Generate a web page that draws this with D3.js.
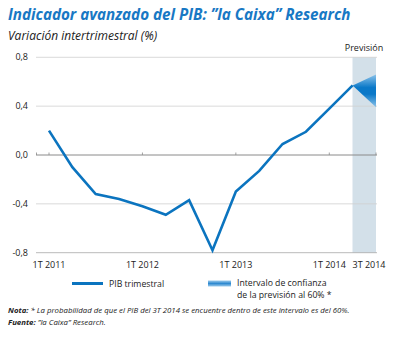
<!DOCTYPE html>
<html>
<head>
<meta charset="utf-8">
<script src="https://cdn.jsdelivr.net/npm/d3@7"></script>
<style>
  body { margin: 0; background: #fff; }
  text { font-family: "Open Sans", "Noto Sans", sans-serif; }
</style>
</head>
<body>
<div id="chart"></div>
<script>
// quarters 1T 2011 .. 2T 2014, then forecast for 3T 2014
let quarters = ["1T 2011", "2T 2011", "3T 2011", "4T 2011",
                "1T 2012", "2T 2012", "3T 2012", "4T 2012",
                "1T 2013", "2T 2013", "3T 2013", "4T 2013",
                "1T 2014", "2T 2014"];
let gdp = [0.2, -0.1, -0.32, -0.36, -0.42, -0.49, -0.37, -0.78, -0.30, -0.13, 0.09, 0.19, 0.38, 0.57];
let forecastQuarter = "3T 2014";
let forecastLow = 0.39;
let forecastHigh = 0.66;
let yTicks = [0.8, 0.4, 0.0, -0.4, -0.8];
let xLabels = ["1T 2011", "1T 2012", "1T 2013", "1T 2014", "3T 2014"];

let W = 395, H = 338;
let blue = "#0b74bf";

let svg = d3.select("#chart")
            .append("svg")
            .attr("width", W)
            .attr("height", H);

let allQ = quarters.concat([forecastQuarter]);
let x = d3.scalePoint()
          .domain(allQ)
          .range([49, 376]);
let y = d3.scaleLinear()
          .domain([-0.8, 0.8])
          .range([252.7, 57.3]);

// title
svg.append("text")
   .attr("x", 8).attr("y", 20)
   .style("font-size", "15.2px")
   .style("font-weight", "bold")
   .style("font-style", "italic")
   .style("fill", "#1878c4")
   .text("Indicador avanzado del PIB: \u201Dla Caixa\u201D Research");

svg.append("text")
   .attr("x", 8).attr("y", 40)
   .style("font-size", "12px")
   .style("font-style", "italic")
   .style("fill", "#222")
   .text("Variación intertrimestral (%)");

// forecast band
let bandX0 = 352.5, bandX1 = 376;
svg.append("rect")
   .attr("x", bandX0)
   .attr("y", y(0.8))
   .attr("width", bandX1 - bandX0)
   .attr("height", y(-0.8) - y(0.8))
   .style("fill", "#d3e0e9");

svg.append("text")
   .attr("x", 364).attr("y", 51)
   .attr("text-anchor", "middle")
   .style("font-size", "9px")
   .style("fill", "#222")
   .text("Previsión");

// gridlines
svg.append("g")
   .selectAll("line")
   .data(yTicks)
   .enter()
   .append("line")
   .attr("x1", 36).attr("x2", 377)
   .attr("y1", d => y(d)).attr("y2", d => y(d))
   .style("stroke", d => d === 0 ? "#8a8a8a" : (d === -0.8 ? "#a8a8a8" : "#cfcfcf"))
   .style("stroke-width", d => d === 0 ? 1 : 0.8);

// small ticks on the zero line
let tickQ = ["1T 2011", "1T 2012", "1T 2013", "1T 2014", "3T 2014"];
svg.append("g")
   .selectAll("line")
   .data(tickQ)
   .enter()
   .append("line")
   .attr("x1", d => x(d)).attr("x2", d => x(d))
   .attr("y1", y(0) - 2.5).attr("y2", y(0))
   .style("stroke", "#8a8a8a")
   .style("stroke-width", 0.8);
svg.append("line")
   .attr("x1", 36.5).attr("x2", 36.5)
   .attr("y1", y(0) - 2.5).attr("y2", y(0))
   .style("stroke", "#8a8a8a")
   .style("stroke-width", 0.8);

// y labels
svg.append("g")
   .selectAll("text")
   .data(yTicks)
   .enter()
   .append("text")
   .attr("x", 28)
   .attr("y", d => y(d) + 3)
   .attr("text-anchor", "end")
   .style("font-size", "9px")
   .style("fill", "#222")
   .text(d => d3.format(".1f")(d).replace(".", ",").replace("−", "-"));

// x labels
svg.append("g")
   .selectAll("text")
   .data(xLabels)
   .enter()
   .append("text")
   .attr("x", d => d === "3T 2014" ? x(d) - 7 : x(d))
   .attr("y", 268)
   .attr("text-anchor", "middle")
   .style("font-size", "9px")
   .style("fill", "#222")
   .text(d => d);

// forecast fan
let defs = svg.append("defs");
let grad = defs.append("linearGradient")
               .attr("id", "fan")
               .attr("gradientUnits", "userSpaceOnUse")
               .attr("x1", 0).attr("x2", 0)
               .attr("y1", y(forecastHigh)).attr("y2", y(forecastLow));
grad.append("stop").attr("offset", "0%").attr("stop-color", "#8cc3ea");
grad.append("stop").attr("offset", "40%").attr("stop-color", "#0a78c8");
grad.append("stop").attr("offset", "60%").attr("stop-color", "#0a78c8");
grad.append("stop").attr("offset", "100%").attr("stop-color", "#8cc3ea");

let last = quarters[quarters.length - 1];
svg.append("path")
   .attr("d", d3.line()([
       [x(last), y(gdp[gdp.length - 1])],
       [x(forecastQuarter), y(forecastHigh)],
       [x(forecastQuarter), y(forecastLow)]
   ]) + "Z")
   .style("fill", "url(#fan)");

// GDP line
let line = d3.line()
             .x((d, i) => x(quarters[i]))
             .y(d => y(d));
svg.append("path")
   .datum(gdp)
   .attr("d", line)
   .style("fill", "none")
   .style("stroke", blue)
   .style("stroke-width", 2.6)
   .style("stroke-linejoin", "miter");

// legend
svg.append("line")
   .attr("x1", 72).attr("x2", 103)
   .attr("y1", 283.5).attr("y2", 283.5)
   .style("stroke", blue)
   .style("stroke-width", 3);
svg.append("text")
   .attr("x", 109).attr("y", 287)
   .style("font-size", "8.7px")
   .style("fill", "#222")
   .text("PIB trimestral");

let sw = defs.append("linearGradient")
             .attr("id", "swatch")
             .attr("x1", 0).attr("x2", 0).attr("y1", 0).attr("y2", 1);
sw.append("stop").attr("offset", "0%").attr("stop-color", "#9ccbec");
sw.append("stop").attr("offset", "50%").attr("stop-color", "#2f8ad0");
sw.append("stop").attr("offset", "100%").attr("stop-color", "#9ccbec");
svg.append("rect")
   .attr("x", 208).attr("y", 280.5)
   .attr("width", 23).attr("height", 6)
   .style("fill", "url(#swatch)");
svg.append("text")
   .attr("x", 237).attr("y", 286)
   .style("font-size", "8.7px")
   .style("fill", "#222")
   .text("Intervalo de confianza");
svg.append("text")
   .attr("x", 237).attr("y", 298)
   .style("font-size", "8.7px")
   .style("fill", "#222")
   .text("de la previsión al 60% *");

// notes
let n1 = svg.append("text")
            .attr("x", 8).attr("y", 313)
            .style("font-size", "7.8px")
            .style("font-style", "italic")
            .style("fill", "#222");
n1.append("tspan").style("font-weight", "bold").text("Nota: ");
n1.append("tspan").text("* La probabilidad de que el PIB del 3T 2014 se encuentre dentro de este intervalo es del 60%.");

let n2 = svg.append("text")
            .attr("x", 8).attr("y", 325)
            .style("font-size", "7.8px")
            .style("font-style", "italic")
            .style("fill", "#222");
n2.append("tspan").style("font-weight", "bold").text("Fuente: ");
n2.append("tspan").text("\u201Dla Caixa\u201D Research.");
</script>
</body>
</html>
